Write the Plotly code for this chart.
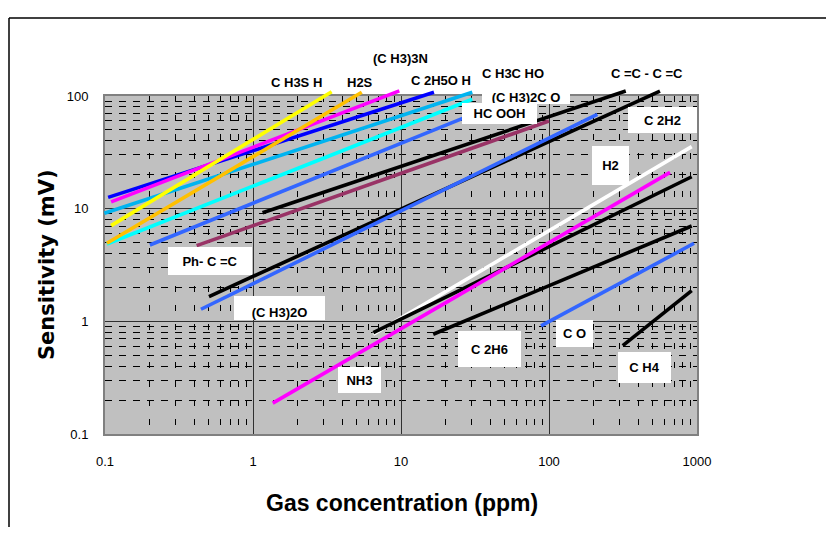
import math
import plotly.graph_objects as go

# ---------------- data ----------------
series_names = ["C2H5OH", "(CH3)3N", "CH3CHO", "(CH3)2CO", "HCOOH", "H2S", "CH3SH",
                "C=C-C=C", "Ph-C=C", "C2H2", "(CH3)2O", "H2", "unlabelled", "NH3",
                "C2H6", "CO", "CH4"]
conc_start = [0.105, 0.11, 0.099, 0.103, 0.201, 0.103, 0.11, 1.16, 0.416, 0.504,
              0.445, 6.5, 6.5, 1.36, 16.5, 88.3, 315]
sens_start = [12.6, 11.5, 9.1, 4.86, 4.76, 4.93, 7.07, 9.21, 4.70, 1.66,
              1.28, 0.768, 0.794, 0.188, 0.768, 0.91, 0.609]
conc_end = [16.7, 9.74, 30.3, 30.3, 26.1, 5.43, 3.40, 330, 100, 562,
            212, 921, 921, 657, 921, 955, 921]
sens_end = [107.8, 111, 107.8, 93.5, 63.4, 107.8, 109, 110.7, 60, 110.7,
            68.8, 35.5, 19.2, 21.0, 7.02, 4.93, 1.87]
series_colors = ["#0000FF", "#FF00FF", "#00B4F0", "#00FFFF", "#3366FF", "#FFC000", "#FFFF00",
                 "#000000", "#993366", "#000000", "#3366FF", "#FFFFFF", "#000000", "#FF00FF",
                 "#000000", "#3366FF", "#000000"]

x_ticks = [0.1, 1, 10, 100, 1000]
x_ticktext = ["0.1", "1", "10", "100", "1000"]
y_ticks = [0.1, 1, 10, 100]
y_ticktext = ["0.1", "1", "10", "100"]

label_texts = ["C H3S H", "H2S", "(C H3)3N", "C 2H5O H", "C H3C HO", "(C H3)2C O", "HC OOH",
               "C =C - C =C", "C 2H2", "H2", "Ph- C =C", "(C H3)2O", "NH3", "C 2H6", "C O", "C H4"]
label_conc = [1.98, 5.28, 9.85, 18.6, 57.1, 70.0, 46.3, 459, 585, 260, 0.512, 1.51, 5.24, 39.6, 148.6, 442]
label_sens = [133, 133, 215, 136, 160, 98, 69.9, 160, 61.2, 24.2, 3.43, 1.31, 0.301, 0.568, 0.78, 0.389]
label_box_w = [None, None, None, None, None, 88, 75, None, 69, 37, 84, 91, 43, 63, 37, 53]
label_box_h = [None, None, None, None, None, 14, 21, None, 26, 39, 28, 24, 26, 36, 27, 31]
label_valign = ["middle"] * 11 + ["bottom"] + ["middle"] * 4

# ---------------- layout geometry ----------------
# the page body has an 8px margin, so the figure starts at window pixel (8, 8)
OFF = 8
W, H = 818, 519
ML, MR, MT, MB = 87, 119, 22, 83
PW, PH = W - ML - MR, H - MT - MB
# plot frame in window pixels
PLOT_L, PLOT_R, PLOT_T, PLOT_B = 105, 697, 96, 434


def px_x(px):
    return (px - OFF - ML) / PW


def px_y(py):
    return (H - MB - (py - OFF)) / PH


x_dom = [px_x(PLOT_L), px_x(PLOT_R)]
y_dom = [px_y(PLOT_B), px_y(PLOT_T)]
x_rng = [-1, 3]
y_rng = [-1, 2]
ppd_x = (PLOT_R - PLOT_L) / (x_rng[1] - x_rng[0])
ppd_y = (PLOT_B - PLOT_T) / (y_rng[1] - y_rng[0])
# overlay axes (same scale, full area) so line ends and labels can run past the frame
x2_rng = [x_rng[0] - x_dom[0] * PW / ppd_x, x_rng[1] + (1 - x_dom[1]) * PW / ppd_x]
y2_rng = [y_rng[0] - y_dom[0] * PH / ppd_y, y_rng[1] + (1 - y_dom[1]) * PH / ppd_y]

fig = go.Figure()
# empty trace keeps the gridded subplot alive
fig.add_trace(go.Scatter(x=[], y=[], xaxis="x", yaxis="y", showlegend=False, hoverinfo="skip"))
for n, xs, ys, xe, ye, c in zip(series_names, conc_start, sens_start, conc_end, sens_end, series_colors):
    fig.add_trace(go.Scatter(x=[xs, xe], y=[ys, ye], mode="lines", name=n,
                             line=dict(color=c, width=3.6),
                             xaxis="x2", yaxis="y2", hoverinfo="skip"))

minor_x = [k * 10 ** e for e in range(-1, 3) for k in range(2, 10)]
minor_y = [k * 10 ** e for e in range(-1, 2) for k in range(2, 10)]

tick_font = dict(family="Liberation Sans, Arial", size=13, color="black")

fig.update_layout(
    width=W, height=H,
    margin=dict(l=ML, r=MR, t=MT, b=MB),
    paper_bgcolor="white",
    plot_bgcolor="rgba(0,0,0,0)",
    showlegend=False,
    xaxis=dict(type="log", range=x_rng, domain=x_dom, anchor="y",
               tickmode="array", tickvals=x_ticks, ticktext=x_ticktext,
               showgrid=True, gridcolor="#303030", gridwidth=1,
               ticks="", ticklabelstandoff=14, tickfont=tick_font,
               showline=True, mirror=True, linecolor="#808080", linewidth=2,
               minor=dict(tickmode="array", tickvals=minor_x, showgrid=True,
                          gridcolor="#000000", gridwidth=1, griddash="6px,13px", ticks=""),
               zeroline=False, fixedrange=True),
    yaxis=dict(type="log", range=y_rng, domain=y_dom, anchor="x",
               tickmode="array", tickvals=y_ticks, ticktext=y_ticktext,
               showgrid=True, gridcolor="#303030", gridwidth=1,
               ticks="", ticklabelstandoff=12, tickfont=tick_font,
               showline=True, mirror=True, linecolor="#808080", linewidth=2,
               minor=dict(tickmode="array", tickvals=minor_y, showgrid=True,
                          gridcolor="#000000", gridwidth=1, griddash="7px,7px", ticks=""),
               zeroline=False, fixedrange=True),
    xaxis2=dict(type="log", range=x2_rng, domain=[0, 1], anchor="y2", visible=False, fixedrange=True),
    yaxis2=dict(type="log", range=y2_rng, domain=[0, 1], anchor="x2", visible=False, fixedrange=True),
)

# gray plotting area
fig.add_shape(type="rect", xref="x domain", yref="y domain", x0=0, x1=1, y0=0, y1=1,
              fillcolor="#C0C0C0", line=dict(width=0), layer="below")
# outer frame (top and left edges)
fig.add_shape(type="line", xref="paper", yref="paper", x0=px_x(9), x1=px_x(W + OFF + 5), y0=px_y(18), y1=px_y(18),
              line=dict(color="black", width=1.5))
fig.add_shape(type="line", xref="paper", yref="paper", x0=px_x(9), x1=px_x(9), y0=px_y(18), y1=px_y(H + OFF + 5),
              line=dict(color="black", width=1.5))

label_font = dict(family="Liberation Sans, Arial", size=13, color="black")
for t, cx, cy, bw, bh, va in zip(label_texts, label_conc, label_sens, label_box_w, label_box_h, label_valign):
    ann = dict(text="<b>%s</b>" % t, x=math.log10(cx), y=math.log10(cy), xref="x2", yref="y2",
               showarrow=False, font=label_font, bgcolor="white", borderpad=0, borderwidth=0,
               xanchor="center", yanchor="middle", valign=va)
    if bw is not None:
        ann["width"] = bw
        ann["height"] = bh
    fig.add_annotation(**ann)

# axis titles
fig.add_annotation(text="<b>Gas concentration (ppm)</b>", xref="paper", yref="paper",
                   x=px_x(402), y=px_y(503), showarrow=False, xanchor="center", yanchor="middle",
                   font=dict(family="Liberation Sans, Arial", size=23, color="black"))
fig.add_annotation(text="<b>Sensitivity (mV)</b>", xref="paper", yref="paper",
                   x=px_x(47), y=px_y(265), showarrow=False, textangle=-90,
                   xanchor="center", yanchor="middle",
                   font=dict(family="DejaVu Sans", size=21, color="black"))

fig.write_html("out.html")
